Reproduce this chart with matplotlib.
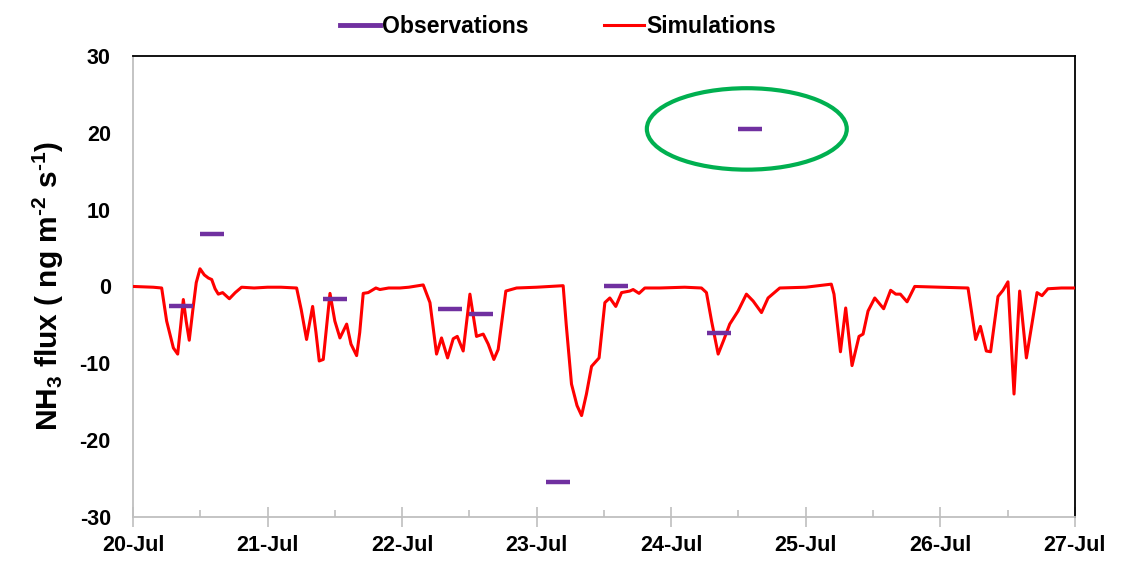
import matplotlib.pyplot as plt
from matplotlib.patches import Ellipse
from matplotlib.lines import Line2D

plt.rcParams['font.family'] = ['Liberation Sans', 'DejaVu Sans']
plt.rcParams['font.weight'] = 'bold'
plt.rcParams['axes.labelweight'] = 'bold'
plt.rcParams['mathtext.fontset'] = 'custom'
plt.rcParams['mathtext.rm'] = 'Liberation Sans:bold'
plt.rcParams['mathtext.bf'] = 'Liberation Sans:bold'
plt.rcParams['mathtext.default'] = 'bf'

# days since 20-Jul 00:00
sim_day = [0.0, 0.15, 0.213, 0.25, 0.30, 0.332, 0.355, 0.374, 0.395, 0.418, 0.445, 0.47,
           0.498, 0.53, 0.56, 0.585, 0.61, 0.634, 0.666, 0.716, 0.76, 0.807, 0.9, 1.0,
           1.1, 1.216, 1.25, 1.29, 1.335, 1.36, 1.384, 1.414, 1.44, 1.464, 1.50, 1.538,
           1.588, 1.62, 1.662, 1.685, 1.711, 1.748, 1.805, 1.835, 1.9, 1.984, 2.05, 2.157,
           2.207, 2.256, 2.293, 2.338, 2.38, 2.41, 2.454, 2.504, 2.553, 2.603, 2.64, 2.682,
           2.714, 2.771, 2.851, 3.0, 3.197, 3.22, 3.259, 3.30, 3.334, 3.37, 3.408, 3.464,
           3.507, 3.544, 3.588, 3.631, 3.692, 3.717, 3.761, 3.804, 3.915, 4.1, 4.225, 4.262,
           4.30, 4.349, 4.39, 4.435, 4.497, 4.559, 4.609, 4.671, 4.72, 4.807, 5.0, 5.19,
           5.21, 5.258, 5.297, 5.344, 5.396, 5.426, 5.463, 5.513, 5.579, 5.631, 5.669, 5.703,
           5.753, 5.81, 6.0, 6.206, 6.263, 6.298, 6.342, 6.374, 6.429, 6.466, 6.503, 6.548,
           6.59, 6.64, 6.719, 6.756, 6.8, 6.9, 7.0]
sim_flux = [0.0, -0.1, -0.2, -4.5, -8.0, -8.8, -5.0, -1.7, -4.5, -7.0, -3.0, 0.5,
            2.3, 1.5, 1.1, 0.9, -0.3, -1.0, -0.8, -1.6, -0.8, -0.1, -0.2, -0.1,
            -0.1, -0.2, -3.0, -6.9, -2.6, -6.0, -9.7, -9.5, -5.0, -0.9, -4.5, -6.7,
            -4.9, -7.5, -9.0, -6.0, -0.9, -0.8, -0.2, -0.4, -0.2, -0.2, -0.1, 0.2,
            -2.1, -8.8, -6.7, -9.3, -6.8, -6.5, -8.4, -1.0, -6.5, -6.2, -7.5, -9.5,
            -8.2, -0.6, -0.2, -0.1, 0.1, -5.0, -12.7, -15.5, -16.8, -14.0, -10.4, -9.3,
            -2.1, -1.5, -2.6, -0.8, -0.6, -0.4, -0.9, -0.2, -0.2, -0.1, -0.2, -0.8,
            -4.5, -8.8, -7.0, -4.9, -3.2, -1.0, -1.9, -3.4, -1.5, -0.2, -0.1, 0.3,
            -1.0, -8.5, -2.8, -10.3, -6.5, -6.2, -3.2, -1.5, -2.9, -0.5, -1.0, -1.0,
            -2.0, 0.0, -0.1, -0.2, -6.9, -5.2, -8.4, -8.5, -1.3, -0.5, 0.6, -14.0,
            -0.6, -9.3, -0.8, -1.2, -0.3, -0.2, -0.2]

obs_day = [0.355, 0.587, 1.504, 2.357, 2.59, 3.157, 3.589, 4.359, 4.588]
obs_flux = [-2.5, 6.8, -1.6, -2.9, -3.6, -25.5, 0.0, -6.1, 20.5]

day_labels = ['20-Jul', '21-Jul', '22-Jul', '23-Jul', '24-Jul', '25-Jul', '26-Jul', '27-Jul']
y_labels = ['-30', '-20', '-10', '0', '10', '20', '30']

purple = '#7030A0'
red = '#FF0000'

fig = plt.figure(figsize=(11.32, 5.65), dpi=100)
ax = fig.add_axes([0.1175, 0.085, 0.832, 0.816])

ax.plot(sim_day, sim_flux, color=red, lw=2.2, zorder=3)
ax.plot(obs_day, obs_flux, ls='none', marker='_', markersize=17, markeredgewidth=3.2,
        color=purple, zorder=4)

# highlight of the 24-Jul observation
ax.add_patch(Ellipse((4.562, 20.5), 1.486, 10.6, fill=False, edgecolor='#00B050', lw=3, zorder=5))

ax.set_xlim(0, 7)
ax.set_ylim(-30, 30)
ax.set_xticks(range(8))
ax.set_xticklabels(day_labels)
ax.set_xticks([i + 0.5 for i in range(7)], minor=True)
ax.set_yticks(range(-30, 31, 10))
ax.set_yticklabels(y_labels)
ax.tick_params(axis='y', length=0, labelsize=15.5, pad=16)
ax.tick_params(axis='x', which='major', direction='inout', length=14, width=1.2,
               color='#bfbfbf', labelsize=15.5, pad=6)
ax.tick_params(axis='x', which='minor', direction='in', length=5, width=1.2, color='#bfbfbf')

for s in ['left', 'bottom']:
    ax.spines[s].set_color('#bfbfbf')
    ax.spines[s].set_linewidth(1.3)
for s in ['top', 'right']:
    ax.spines[s].set_color('black')
    ax.spines[s].set_linewidth(1.3)

ax.set_ylabel(r'NH$_3$ flux ( ng m$^{\text{-}2}$ s$^{\text{-}1}$)', fontsize=21.5,
              fontweight='bold', labelpad=10)

handles = [Line2D([], [], color=purple, lw=3.5), Line2D([], [], color=red, lw=2.2)]
fig.legend(handles, ['Observations', 'Simulations'], loc='upper center',
           bbox_to_anchor=(0.493, 1.01), ncol=2, frameon=False, fontsize=16.6,
           handlelength=1.7, handletextpad=0.1, columnspacing=3.3)

plt.savefig('out.png', dpi=100)
